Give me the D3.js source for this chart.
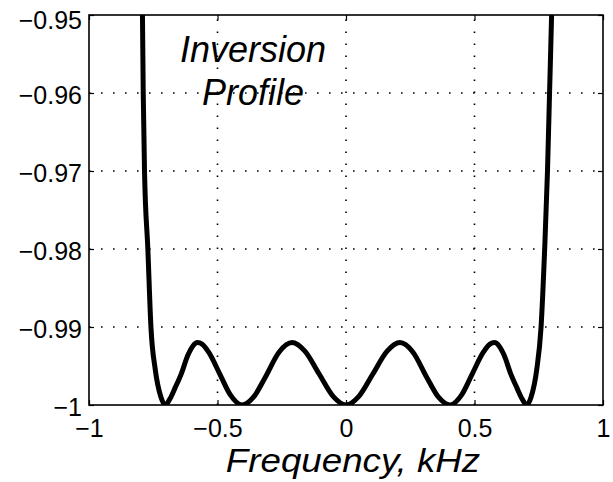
<!DOCTYPE html>
<html>
<head>
<meta charset="utf-8">
<script src="https://cdn.jsdelivr.net/npm/d3@7"></script>
<style>
  html, body { margin: 0; padding: 0; background: #fff; }
  svg { display: block; font-family: "Liberation Sans", Arial, Helvetica, sans-serif; }
</style>
</head>
<body>
<svg id="chart" width="613" height="482"></svg>
<script>
// ---- data ----
const freq = [
  -0.796, -0.792, -0.789, -0.784, -0.771, -0.759, -0.742, -0.720, -0.703,
  -0.685, -0.665, -0.641, -0.615, -0.595, -0.578, -0.560, -0.535, -0.490,
  -0.450, -0.405, -0.360, -0.315, -0.260, -0.210, -0.160, -0.105, -0.050,
  0.000,
  0.050, 0.105, 0.160, 0.210, 0.260, 0.315, 0.360, 0.405, 0.450,
  0.490, 0.535, 0.560, 0.578, 0.595, 0.615, 0.641, 0.665, 0.685,
  0.703, 0.720, 0.742, 0.759, 0.773, 0.784, 0.792, 0.800, 0.804
];
const mz = [
  -0.9440, -0.9500, -0.9600, -0.9700, -0.9800, -0.9900, -0.9955, -0.9990, -1.0000,
  -0.9992, -0.9978, -0.9960, -0.9936, -0.9924, -0.9920, -0.9922, -0.9932, -0.9961,
  -0.9987, -1.0000, -0.9990, -0.9965, -0.9932, -0.9920, -0.9931, -0.9960, -0.9989,
  -1.0000,
  -0.9989, -0.9960, -0.9931, -0.9920, -0.9932, -0.9965, -0.9990, -1.0000, -0.9987,
  -0.9961, -0.9932, -0.9922, -0.9920, -0.9924, -0.9936, -0.9960, -0.9978, -0.9992,
  -1.0000, -0.9990, -0.9955, -0.9900, -0.9800, -0.9700, -0.9600, -0.9500, -0.9440
];
const xTicks = [-1, -0.5, 0, 0.5, 1];
const xTickLabels = ["\u22121", "\u22120.5", "0", "0.5", "1"];
const yTicks = [-1, -0.99, -0.98, -0.97, -0.96, -0.95];
const yTickLabels = ["\u22121", "\u22120.99", "\u22120.98", "\u22120.97", "\u22120.96", "\u22120.95"];
const xGrid = [-0.5, 0, 0.5];
const yGrid = [-0.99, -0.98, -0.97, -0.96];
const xLabel = "Frequency, kHz";
const titleLines = ["Inversion", "Profile"];

// ---- layout ----
const L = 89, R = 603, T = 15, B = 405;
const svg = d3.select("#chart");
const x = d3.scaleLinear().domain([-1, 1]).range([L, R]);
const y = d3.scaleLinear().domain([-1, -0.95]).range([B, T]);

// grid
const grid = svg.append("g").attr("stroke", "#000").attr("stroke-width", 1.6)
  .attr("stroke-dasharray", "1.6,10.4");
grid.selectAll("line.v").data(xGrid).join("line").attr("class", "v")
  .attr("x1", d => x(d)).attr("x2", d => x(d)).attr("y1", B).attr("y2", T);
grid.selectAll("line.h").data(yGrid).join("line").attr("class", "h")
  .attr("x1", L).attr("x2", R).attr("y1", d => y(d)).attr("y2", d => y(d));

// clip
svg.append("defs").append("clipPath").attr("id", "clip")
  .append("rect").attr("x", L).attr("y", T).attr("width", R - L).attr("height", B - T);

// curve
const pts = freq.map((f, i) => [f, mz[i]]);
const lineGen = d3.line().x(d => x(d[0])).y(d => y(d[1])).curve(d3.curveMonotoneX);
svg.append("path")
  .datum(pts)
  .attr("clip-path", "url(#clip)")
  .attr("fill", "none")
  .attr("stroke", "#000")
  .attr("stroke-width", 5)
  .attr("stroke-linejoin", "round")
  .attr("d", lineGen);

// axes
const fontSize = 25;
const xAxis = d3.axisBottom(x).tickValues(xTicks)
  .tickFormat((d, i) => xTickLabels[i]).tickSizeInner(-5).tickSizeOuter(0).tickPadding(14);
const gx = svg.append("g").attr("transform", `translate(0,${B})`).call(xAxis);
const xAxisTop = d3.axisTop(x).tickValues(xTicks).tickFormat("").tickSizeInner(-5).tickSizeOuter(0);
svg.append("g").attr("transform", `translate(0,${T})`).call(xAxisTop);

const yAxis = d3.axisLeft(y).tickValues(yTicks)
  .tickFormat((d, i) => yTickLabels[i]).tickSizeInner(-5).tickSizeOuter(0).tickPadding(7);
const gy = svg.append("g").attr("transform", `translate(${L},0)`).call(yAxis);
const yAxisRight = d3.axisRight(y).tickValues(yTicks).tickFormat("").tickSizeInner(-5).tickSizeOuter(0);
svg.append("g").attr("transform", `translate(${R},0)`).call(yAxisRight);

svg.selectAll(".domain").remove();
svg.selectAll(".tick line").attr("stroke", "#000").attr("stroke-width", 1.2);
svg.selectAll(".tick text").attr("fill", "#000").style("font-size", fontSize + "px")
  .style("font-family", "'Liberation Sans', Arial, sans-serif");
gy.selectAll(".tick text").attr("dy", d => d === -0.95 ? "0.55em" : "0.4em");

// frame
svg.append("rect").attr("x", L).attr("y", T).attr("width", R - L).attr("height", B - T)
  .attr("fill", "none").attr("stroke", "#000").attr("stroke-width", 1.6);

// x label
svg.append("text")
  .attr("transform", "translate(353,472) scale(1.08,1)")
  .attr("text-anchor", "middle")
  .style("font-size", "34px").style("font-style", "italic").text(xLabel);

// in-plot title
svg.append("g").selectAll("text").data(titleLines).join("text")
  .attr("x", 253).attr("y", (d, i) => 62 + i * 43).attr("text-anchor", "middle")
  .style("font-size", "36px").style("font-style", "italic").text(d => d);
</script>
</body>
</html>
